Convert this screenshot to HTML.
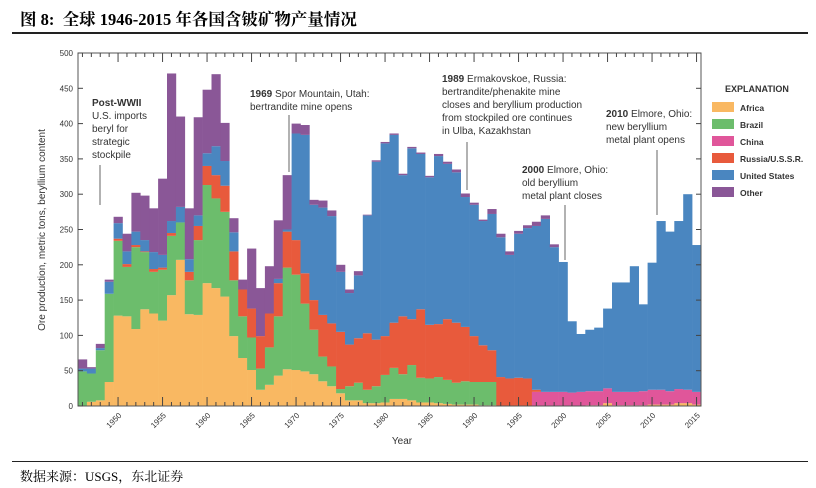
<!DOCTYPE html>
<html><head><meta charset="utf-8">
<style>
body{margin:0;background:#fff;width:816px;height:488px;overflow:hidden;font-family:"Liberation Sans",sans-serif;}
.t{position:absolute;}
</style></head>
<body>
<div class="t" style="left:20px;top:6px;font:bold 16.5px 'Liberation Serif','Noto Serif CJK SC',serif;color:#000;">图 8:&nbsp; 全球 1946-2015 年各国含铍矿物产量情况</div>
<div class="t" style="left:12px;top:32px;width:796px;height:2px;background:#222;"></div>
<div class="t" style="left:12px;top:461px;width:796px;height:1px;background:#222;"></div>
<div class="t" style="left:20px;top:466px;font:13px 'Liberation Serif','Noto Serif CJK SC',serif;color:#000;">数据来源：USGS，东北证券</div>
<svg id="chart" width="816" height="488" style="position:absolute;left:0;top:0" font-family="Liberation Sans, sans-serif"></svg>
<script>
const years=[];for(let y=1946;y<=2015;y++)years.push(y);
const africa=[0,6,8,34,128,127,109,137,131,121,157,207,130,129,174,167,155,99,68,51,23,30,43,52,51,49,45,35,28,18,8,8,4,4,5,10,10,8,5,5,4,3,2,2,2,1,1,0,0,0,0,0,0,0,0,0,0,1,1,4,1,1,1,1,2,2,2,4,4,2];
const brazil=[49,40,71,125,106,70,116,81,59,72,84,53,48,106,139,127,120,79,59,46,30,53,84,144,135,96,63,35,28,6,20,25,19,24,39,44,35,50,35,34,37,34,31,33,32,33,33,0,0,0,0,0,0,0,0,0,0,0,0,0,0,0,0,0,0,0,0,0,0,0];
const china=[0,0,0,0,0,0,0,0,0,0,0,0,0,0,0,0,0,0,0,0,0,0,0,0,0,0,0,0,0,0,0,0,0,0,0,0,0,0,0,0,0,0,0,0,0,0,0,0,0,0,0,20,20,20,20,19,20,20,20,21,19,19,19,20,21,21,19,20,19,18];
const russia=[0,0,0,0,3,4,3,1,4,3,4,0,12,20,27,33,37,41,38,41,46,48,47,51,49,43,42,59,61,81,59,63,80,66,55,64,82,65,97,76,75,86,85,77,65,52,45,41,39,40,39,3,0,0,0,0,0,0,0,0,0,0,0,0,0,0,0,0,0,0];
const usa=[4,7,3,17,22,18,19,16,24,18,17,22,18,15,18,41,35,27,0,0,0,0,6,3,151,196,135,152,152,85,73,89,167,252,273,266,200,242,220,209,238,220,213,184,186,176,193,198,175,204,213,232,245,205,184,101,82,87,90,113,155,155,178,123,180,239,226,238,277,208];
const other=[13,2,6,3,9,25,55,63,62,108,209,128,72,139,90,102,54,20,14,85,68,67,83,77,14,14,7,10,8,10,5,6,1,2,2,2,2,2,2,2,3,3,4,5,3,2,7,5,5,4,4,6,5,4,0,0,0,0,0,0,0,0,0,0,0,0,0,0,0,0];
const yTicks=[0,50,100,150,200,250,300,350,400,450,500];
const xTickLabels=[1950,1955,1960,1965,1970,1975,1980,1985,1990,1995,2000,2005,2010,2015];
const seriesNames=["Africa","Brazil","China","Russia/U.S.S.R.","United States","Other"];
const colors=["#f9b862","#6cbd6c","#e0569a","#e85a3c","#4a86c0","#8a5797"];
const series=[africa,brazil,china,russia,usa,other];
const L=78,R=701,T=53,B=406;
const bw=(R-L)/years.length;
const xs=i=>L+i*bw;
const ys=v=>B-v*(B-T)/500;
const svg=document.getElementById('chart');
const NS='http://www.w3.org/2000/svg';
function mk(tag,attrs,parent){const e=document.createElementNS(NS,tag);for(const k in attrs)e.setAttribute(k,attrs[k]);(parent||svg).appendChild(e);return e;}
const g=mk('g',{});


years.forEach((yr,i)=>{let base=0;series.forEach((s,k)=>{const v=s[i];if(v>0){const r=mk('rect',{x:xs(i),y:ys(base+v),width:bw+0.3,height:ys(base)-ys(base+v),fill:colors[k]},g);

}base+=v;});});
const fr=mk('rect',{x:L,y:T,width:R-L,height:B-T,fill:'none',stroke:'#555','stroke-width':1});


yTicks.forEach(v=>{const y=ys(v);mk('line',{x1:L,x2:L+5,y1:y,y2:y,stroke:'#444'});mk('line',{x1:R,x2:R-5,y1:y,y2:y,stroke:'#444'});
const t=mk('text',{x:L-5,y:y+3,'font-size':8,'text-anchor':'end',fill:'#333'});t.textContent=v;

});
years.forEach((yr,i)=>{const x=xs(i)+bw/2;const len=yr%5===0?9:4;mk('line',{x1:x,x2:x,y1:B,y2:B-len,stroke:'#444'});mk('line',{x1:x,x2:x,y1:T,y2:T+len,stroke:'#444'});});
xTickLabels.forEach(yr=>{const i=years.indexOf(yr);const x=xs(i)+bw/2;const t=mk('text',{x:x+4,y:B+10,'font-size':8,'text-anchor':'end',fill:'#333',transform:`rotate(-45 ${x+4} ${B+10})`});t.textContent=yr;

});
let t=mk('text',{x:402,y:444,'font-size':10,'text-anchor':'middle',fill:'#333'});t.textContent='Year';


t=mk('text',{x:45,y:230,'font-size':10,'text-anchor':'middle',fill:'#333',transform:'rotate(-90 45 230)'});t.textContent='Ore production, metric tons, beryllium content';


t=mk('text',{x:725,y:92,'font-size':9,'font-weight':'bold',fill:'#333'});t.textContent='EXPLANATION';


seriesNames.forEach((n,k)=>{const y=102+k*17;mk('rect',{x:712,y:y,width:22,height:10,fill:colors[k]});const tt=mk('text',{x:740,y:y+9,'font-size':8.5,'font-weight':'bold',fill:'#333'});tt.textContent=n;

});
function ann(name,x,y0,lines,lx,ly1,ly2){const gg=mk('g',{});
lines.forEach((l,j)=>{const tx=mk('text',{x:x,y:y0+j*13,'font-size':10,fill:'#333'},gg);if(j===0&&l[0]){const b=mk('tspan',{'font-weight':'bold'},tx);b.textContent=l[0];const s=mk('tspan',{},tx);s.textContent=l[1];}else tx.textContent=l[1];});
mk('line',{x1:lx,x2:lx,y1:ly1,y2:ly2,stroke:'#666'},gg);}
ann('annotation-post-wwii',92,106,[['Post-WWII',''],['','U.S. imports'],['','beryl for'],['','strategic'],['','stockpile']],100,165,205);
ann('annotation-1969',250,97,[['1969',' Spor Mountain, Utah:'],['','bertrandite mine opens']],289,115,172);
ann('annotation-1989',442,82,[['1989',' Ermakovskoe, Russia:'],['','bertrandite/phenakite mine'],['','closes and beryllium production'],['','from stockpiled ore continues'],['','in Ulba, Kazakhstan']],467,142,190);
ann('annotation-2000',522,173,[['2000',' Elmore, Ohio:'],['','old beryllium'],['','metal plant closes']],565,205,260);
ann('annotation-2010',606,117,[['2010',' Elmore, Ohio:'],['','new beryllium'],['','metal plant opens']],657,150,215);
</script>
</body></html>
